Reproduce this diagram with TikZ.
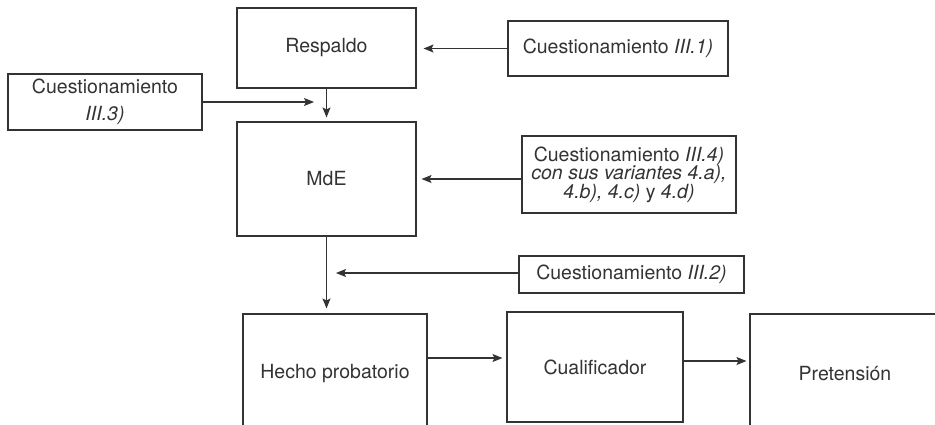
\documentclass[tikz,border=0pt]{standalone}
\usepackage{fontspec}
\setmainfont{TeX Gyre Heros}
\usetikzlibrary{arrows.meta}
\definecolor{ink}{HTML}{333333}
\begin{document}
\begin{tikzpicture}[x=1pt,y=-1pt,
  box/.style={draw=ink,line width=1.1pt,inner sep=0pt,align=center,text=ink,
    font=\fontsize{19.5}{18.5}\selectfont},
  arr/.style={draw=ink,line width=1.1pt,-{Stealth[length=10pt,width=8pt,inset=2pt]}}]
\useasboundingbox (0,0) rectangle (935,424);
\clip (0,0) rectangle (935,424);
\fill[white] (0,0) rectangle (935,424);
% nodes
\node[box,minimum width=179pt,minimum height=80pt] (resp) at (326.5,48) {Respaldo};
\node[box,minimum width=220pt,minimum height=55pt] (iii1) at (618,48.5) {Cuestionamiento \textit{III.1)}};
\node[box,minimum width=194pt,minimum height=56pt] (iii3) at (105,102) {Cuestionamiento\\[9pt]\textit{III.3)}};
\node[box,minimum width=179pt,minimum height=114pt] (mde) at (326.5,179) {MdE};
\node[box,minimum width=214pt,minimum height=77pt] (iii4) at (629,174.5) {Cuestionamiento \textit{III.4)}\\\textit{con sus variantes 4.a),}\\\textit{4.b), 4.c)} y \textit{4.d)}};
\node[box,minimum width=225pt,minimum height=37pt] (iii2) at (631.5,274.5) {Cuestionamiento \textit{III.2)}};
\node[box,minimum width=184pt,minimum height=120pt] (hecho) at (335,374) {Hecho probatorio};
\node[box,minimum width=176pt,minimum height=110pt] (cual) at (595,367) {Cualificador};
\node[box,minimum width=190pt,minimum height=120pt] (pret) at (845,374) {Pretensión};
\coordinate (c3) at (314,102);
\coordinate (c2) at (336,273);
% connectors
\draw[arr,shorten >=7pt] (iii1.west) -- (iii1.west -| resp.east);
\draw[arr] (iii3.east) -- (c3);
\draw[arr,shorten >=4pt] (resp.south) -- (mde.north);
\draw[arr,shorten >=5pt] (iii4.west |- 0,179) -- (mde.east |- 0,179);
\draw[arr,shorten >=5pt] (mde.south) -- (mde.south |- hecho.north);
\draw[arr] (iii2.west |- c2) -- (c2);
\draw[arr,shorten >=4pt] ([yshift=16pt]hecho.east) -- ([yshift=16pt]hecho.east -| cual.west);
\draw[arr,shorten >=3pt] ([yshift=6pt]cual.east) -- ([yshift=6pt]cual.east -| pret.west);
\end{tikzpicture}
\end{document}
